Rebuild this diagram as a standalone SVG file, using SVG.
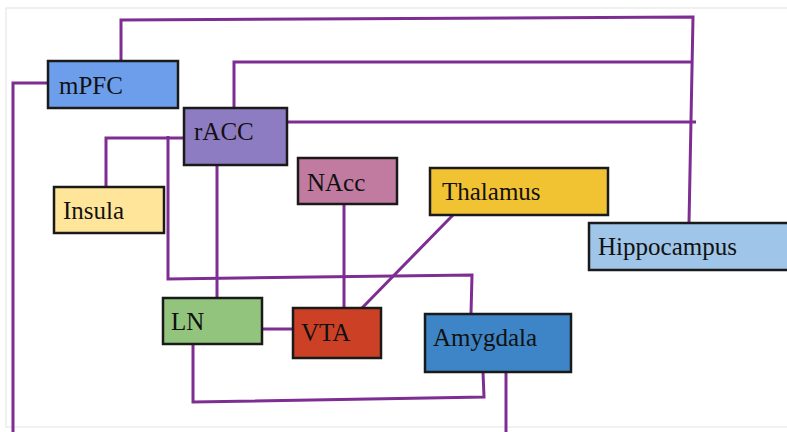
<svg xmlns="http://www.w3.org/2000/svg" width="787" height="432" viewBox="0 0 787 432">
<style>
.box{stroke:#1a1a1a;stroke-width:2.5}
.lbl{font-family:"Liberation Serif","Times New Roman",serif;font-size:25px;fill:#111}
.conn{fill:none;stroke:#7E2E92;stroke-width:3;stroke-linejoin:miter}
</style>
<rect x="0" y="0" width="787" height="432" fill="#ffffff"/>
<rect x="6" y="8" width="800" height="419" fill="none" stroke="#ececec" stroke-width="1.5"/>
<g id="connectors">
<path class="conn" d="M121,61 V20 L693,17 L689,223"/>
<path class="conn" d="M234,108 V62 H692"/>
<path class="conn" d="M287,122 H696"/>
<path class="conn" d="M48,83 H13 V432"/>
<path class="conn" d="M184,138 H106 V187"/>
<path class="conn" d="M168,136 V279 L472,275 L471,314"/>
<path class="conn" d="M217,165 V298"/>
<path class="conn" d="M344,204 V308"/>
<path class="conn" d="M453,215 L362,308"/>
<path class="conn" d="M259,329 H293"/>
<path class="conn" d="M193,344 V402 L484,397 L483,372"/>
<path class="conn" d="M506,372 V432"/>
</g>
<g id="mPFC"><rect class="box" x="48" y="61" width="130" height="47" fill="#6D9EEB"/><text class="lbl" x="59" y="94">mPFC</text></g>
<g id="rACC"><rect class="box" x="184" y="108" width="103" height="57" fill="#8E7CC3"/><text class="lbl" x="194" y="140">rACC</text></g>
<g id="NAcc"><rect class="box" x="298" y="158" width="99" height="46" fill="#C27BA0"/><text class="lbl" x="307" y="191">NAcc</text></g>
<g id="Insula"><rect class="box" x="54" y="187" width="110" height="46" fill="#FFE599"/><text class="lbl" x="63" y="219">Insula</text></g>
<g id="Thalamus"><rect class="box" x="430" y="168" width="178" height="47" fill="#F1C232"/><text class="lbl" x="442" y="200">Thalamus</text></g>
<g id="Hippocampus"><rect class="box" x="589" y="223" width="210" height="47" fill="#9FC5E8"/><text class="lbl" x="598" y="255" textLength="139" lengthAdjust="spacing">Hippocampus</text></g>
<g id="LN"><rect class="box" x="163" y="298" width="99" height="46" fill="#93C47D"/><text class="lbl" x="171" y="330">LN</text></g>
<g id="VTA"><rect class="box" x="293" y="308" width="88" height="50" fill="#CC4125"/><text class="lbl" x="301" y="341">VTA</text></g>
<g id="Amygdala"><rect class="box" x="425" y="314" width="146" height="58" fill="#3D85C6"/><text class="lbl" x="433" y="346">Amygdala</text></g>
</svg>
